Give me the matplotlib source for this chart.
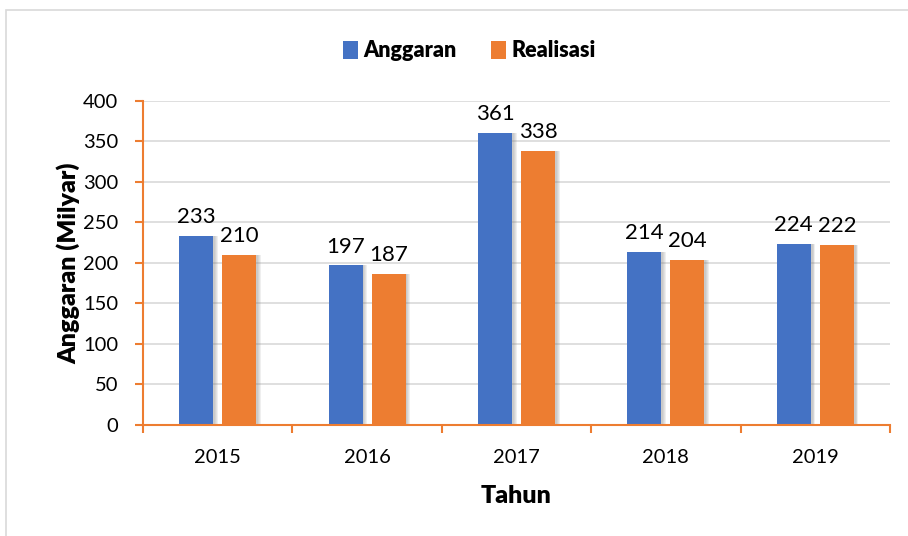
import matplotlib.pyplot as plt
import numpy as np
from matplotlib.patches import Rectangle

plt.rcParams['font.family'] = ['Lato', 'DejaVu Sans']

years = ['2015', '2016', '2017', '2018', '2019']
anggaran = [233, 197, 361, 214, 224]
realisasi = [210, 187, 338, 204, 222]

BLUE = '#4472C4'
ORANGE = '#ED7D31'

fig = plt.figure(figsize=(9.08, 5.36), dpi=100)
ax = fig.add_axes([0.1575, 0.2071, 0.8227, 0.6045])

# chart frame
fig.patches.append(Rectangle((0.0066, -0.05), 1.1, 1.031, transform=fig.transFigure,
                             fill=False, edgecolor='#D9D9D9', linewidth=1.2))

x = np.arange(len(years))
w = 0.228
off = 0.144

for xs, vals, col, lab in [(x - off, anggaran, BLUE, 'Anggaran'), (x + off, realisasi, ORANGE, 'Realisasi')]:
    # soft shadow
    for k in range(4):
        ax.bar(xs + 0.012 + k * 0.006, vals, w, color='gray', alpha=0.12, zorder=2, linewidth=0)
    bars = ax.bar(xs, vals, w, color=col, label=lab, zorder=3)
    for b, v in zip(bars, vals):
        ax.text(b.get_x() + b.get_width() / 2, v + 11, str(v), ha='center', va='bottom', fontsize=16)

ax.set_xlim(-0.5, len(years) - 0.5)
ax.set_ylim(0, 400)
ax.set_yticks(range(0, 401, 50))
ax.set_xticks(x)
ax.set_xticklabels(years)
ax.set_xticks(np.arange(-0.5, len(years), 1), minor=True)
ax.tick_params(axis='x', which='major', length=0, labelsize=14.5, pad=17)
ax.tick_params(axis='x', which='minor', length=6, color=ORANGE, width=1.5, direction='out')
ax.tick_params(axis='y', length=6, color=ORANGE, width=1.5, labelsize=14.5, pad=12)
ax.yaxis.grid(True, color='#D9D9D9', linewidth=1.2, zorder=0)
ax.set_axisbelow(True)

for s in ['top', 'right']:
    ax.spines[s].set_visible(False)
for s in ['left', 'bottom']:
    ax.spines[s].set_color(ORANGE)
    ax.spines[s].set_linewidth(1.5)
ax.spines['bottom'].set_zorder(4)

ax.set_xlabel('Tahun', fontsize=18, fontweight='heavy', labelpad=14)
ax.set_ylabel('Anggaran (Milyar)', fontsize=18, fontweight='heavy', labelpad=2)

handles, labels = ax.get_legend_handles_labels()
fig.legend(handles, labels, loc='center', bbox_to_anchor=(0.517, 0.905), ncol=2, frameon=False,
           prop={'size': 15.5, 'weight': 'heavy'}, handlelength=0.7, handleheight=0.9,
           handletextpad=0.25, columnspacing=1.6)

fig.savefig('out.png', dpi=100)
